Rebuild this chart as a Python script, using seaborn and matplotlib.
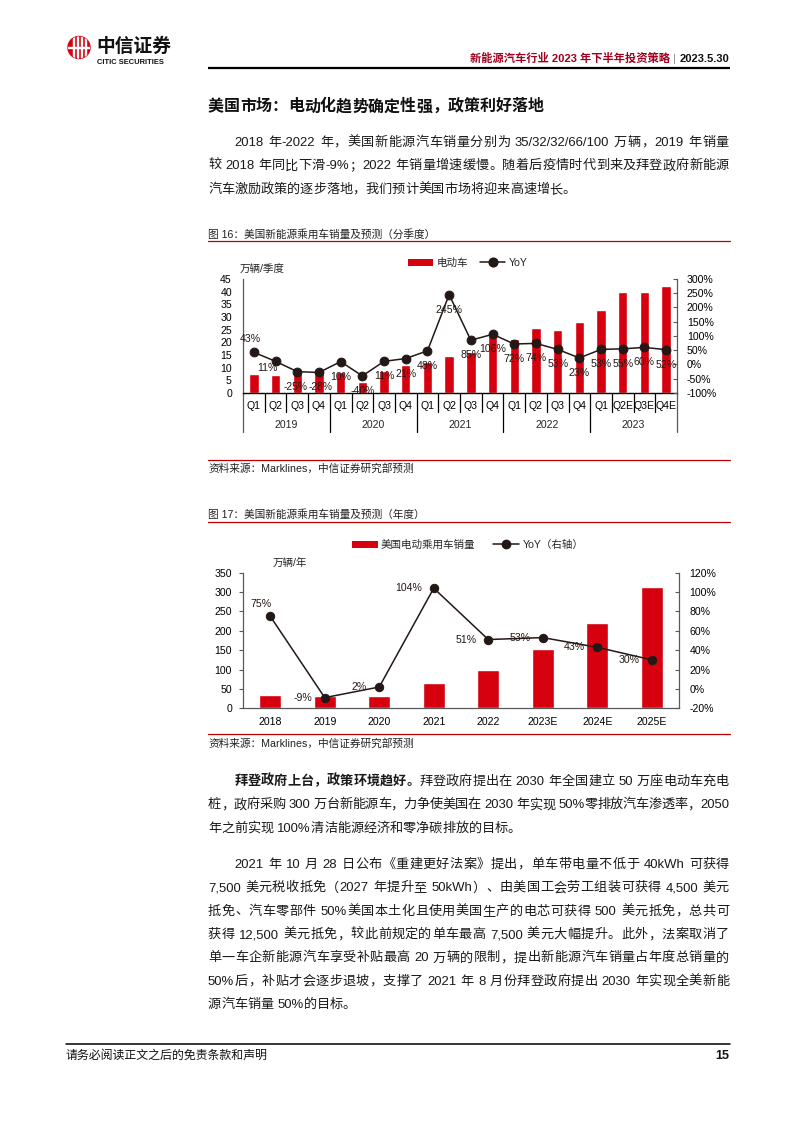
import numpy as np
import pandas as pd
import matplotlib
matplotlib.use('Agg')
import matplotlib.pyplot as plt
import seaborn as sns
from matplotlib.patches import Patch, Circle, Rectangle
from matplotlib.lines import Line2D
from matplotlib.font_manager import FontProperties

sns.set_style('white')
FAM = ['Liberation Sans', 'Noto Sans CJK SC']
plt.rcParams['font.family'] = FAM
plt.rcParams['axes.unicode_minus'] = False

# ---------------- data ----------------
q_keys = ['2019Q1', '2019Q2', '2019Q3', '2019Q4', '2020Q1', '2020Q2', '2020Q3', '2020Q4',
          '2021Q1', '2021Q2', '2021Q3', '2021Q4', '2022Q1', '2022Q2', '2022Q3', '2022Q4',
          '2023Q1', '2023Q2E', '2023Q3E', '2023Q4E']
q_labels = ['Q1', 'Q2', 'Q3', 'Q4', 'Q1', 'Q2', 'Q3', 'Q4', 'Q1', 'Q2', 'Q3', 'Q4',
            'Q1', 'Q2', 'Q3', 'Q4', 'Q1', 'Q2E', 'Q3E', 'Q4E']
q_years = ['2019', '2020', '2021', '2022', '2023']
q_sales = [7.6, 7.2, 7.9, 9.0, 8.4, 4.3, 8.8, 11.0, 12.4, 14.8, 16.3, 22.7,
           21.3, 25.7, 24.9, 27.9, 32.7, 39.8, 39.8, 42.3]
q_yoy = [43, 11, -25, -28, 10, -40, 11, 21, 48, 245, 85, 106, 72, 74, 53, 23, 53, 55, 60, 52]

a_years = ['2018', '2019', '2020', '2021', '2022', '2023E', '2024E', '2025E']
a_sales = [35, 32, 32, 66, 100, 154, 219, 313]
a_yoy = [75, -9, 2, 104, 51, 53, 43, 30]

RED = '#D7000F'
DARK = '#231815'
AXC = '#595959'
W, H = 794, 1123

fig = plt.figure(figsize=(W / 100, H / 100), dpi=100)
bg = fig.add_axes([0, 0, 1, 1])
bg.set_xlim(0, W)
bg.set_ylim(H, 0)
bg.axis('off')
renderer = fig.canvas.get_renderer()


def px_axes(x0, y0, x1, y1):
    return fig.add_axes([x0 / W, 1 - y1 / H, (x1 - x0) / W, (y1 - y0) / H])


def fprop(size, bold=False, family=None):
    return FontProperties(family=family or FAM, size=size, weight='bold' if bold else 'normal')


def adv(s, fp):
    w1 = renderer.get_text_width_height_descent('|' + s + '|', fp, ismath=False)[0]
    w0 = renderer.get_text_width_height_descent('||', fp, ismath=False)[0]
    return w1 - w0


def tokens(segs):
    out = []
    for text, bold in segs:
        word = ''
        for ch in text:
            if ord(ch) < 128 and ch != ' ':
                word += ch
            else:
                if word:
                    out.append((word, bold))
                    word = ''
                out.append((ch, bold))
        if word:
            out.append((word, bold))
    return out


def draw_line(segs, x0, x1, yc, size, justify=True, color='#1a1a1a'):
    toks = tokens(segs)
    fps = {False: fprop(size), True: fprop(size, True)}
    ws = [adv(t, fps[b]) for t, b in toks]
    gap = 0
    if justify and len(toks) > 1:
        gap = (x1 - x0 - sum(ws)) / (len(toks) - 1)
    ybase = yc + 0.37 * size * 100 / 72
    x = x0
    for (t, b), w in zip(toks, ws):
        if t != ' ':
            bg.text(x, ybase, t, fontproperties=fps[b], ha='left', va='baseline', color=color)
        x += w + gap


LM, RM = 208, 729
BODY = 9.47
LS = 23.4

# ---------------- header ----------------
bg.add_patch(Circle((79, 47.5), 11, color=RED))
clipc = Circle((79, 47.5), 11, transform=bg.transData)
for xx in [73.5, 77.5, 81.5, 85.5]:
    r = Rectangle((xx - 0.9, 36), 1.8, 23, color='white')
    r.set_clip_path(clipc)
    bg.add_patch(r)
r = Rectangle((68, 46.6), 22, 1.8, color='white')
r.set_clip_path(clipc)
bg.add_patch(r)
bg.text(96, 46, '中信证券', fontproperties=fprop(13.5, True, ['Noto Sans CJK SC']), ha='left', va='center', color='#111111')
bg.text(97, 62.5, 'CITIC SECURITIES', fontproperties=fprop(5.4, True), ha='left', va='center', color='#111111')

fp_h = fprop(8.0, True)
bg.text(RM, 58.5, '2023.5.30', fontproperties=fp_h, ha='right', va='center', color='#111111')
xh = RM - adv('2023.5.30', fp_h) - 3
bg.text(xh, 58.5, '|', fontproperties=fprop(8.0), ha='right', va='center', color='#888888')
xh -= adv('|', fprop(8.0)) + 3
bg.text(xh, 58.5, '新能源汽车行业 2023 年下半年投资策略', fontproperties=fprop(8.1, True), ha='right', va='center', color='#A0001E')
bg.plot([LM, RM + 1], [68, 68], color='black', lw=1.6, solid_capstyle='butt')

# ---------------- title & paragraph 1 ----------------
draw_line([('美国市场：电动化趋势确定性强，政策利好落地', True)], LM, RM, 105.5, 11.5, justify=False, color='#111111')

p1 = [
    '2018 年-2022 年，美国新能源汽车销量分别为 35/32/32/66/100 万辆，2019 年销量',
    '较 2018 年同比下滑-9%；2022 年销量增速缓慢。随着后疫情时代到来及拜登政府新能源',
    '汽车激励政策的逐步落地，我们预计美国市场将迎来高速增长。',
]
indent = 2 * BODY * 100 / 72
for i, ln in enumerate(p1):
    x0 = LM + (indent if i == 0 else 0)
    draw_line([(ln, False)], x0, RM, 141 + i * LS, BODY, justify=(i < len(p1) - 1))

# ---------------- figure 16 ----------------
CAP = 7.7
bg.text(LM, 234, '图 16：美国新能源乘用车销量及预测（分季度）', fontproperties=fprop(CAP), ha='left', va='center', color='#222222')
bg.plot([LM, RM + 1], [240.5, 240.5], color='#C00000', lw=0.9)

ax1 = px_axes(243, 279, 677, 393)
df1 = pd.DataFrame({'key': q_keys, 'sales': q_sales})
sns.barplot(data=df1, x='key', y='sales', color=RED, saturation=1, width=0.43, ax=ax1)
ax1.set_ylim(0, 45)
ax1.set_yticks(np.arange(0, 50, 5))
ax1.set_xticks(np.arange(20))
ax1.set_xticklabels(q_labels)
ax1.set_xlabel('')
ax1.set_ylabel('')
ax1.tick_params(axis='y', length=0, pad=8, labelsize=7.6, colors='black')
ax1.tick_params(axis='x', length=0, pad=5.5, labelsize=7.6, colors='black')
for s in ['top', 'right']:
    ax1.spines[s].set_visible(False)
ax1.spines['left'].set_color(AXC)
ax1.spines['left'].set_linewidth(0.9)
ax1.spines['bottom'].set_color('black')
ax1.spines['bottom'].set_linewidth(1.0)

ax2 = ax1.twinx()
sns.lineplot(x=np.arange(20), y=q_yoy, ax=ax2, color=DARK, lw=1.1, marker='o',
             markersize=6.3, markeredgecolor=DARK, markerfacecolor=DARK)
ax2.set_ylim(-100, 300)
ax2.set_yticks(np.arange(-100, 301, 50))
ax2.set_yticklabels([f'{v}%' for v in range(-100, 301, 50)])
ax2.tick_params(axis='y', length=3, direction='in', pad=7, labelsize=7.6, colors='black')
ax2.tick_params(axis='y', color=AXC)
ax2.set_xlabel('')
ax2.set_ylabel('')
for s in ['top', 'left', 'bottom']:
    ax2.spines[s].set_visible(False)
ax2.spines['right'].set_color(AXC)
ax2.spines['right'].set_linewidth(0.9)
ax1.set_xlim(-0.5, 19.5)

trans = ax1.get_xaxis_transform()
for i in range(21):
    b = i - 0.5
    yb = -0.342 if i % 4 == 0 else -0.167
    col = AXC if i in (0, 20) else 'black'
    ax1.plot([b, b], [0, yb], transform=trans, clip_on=False, color=col, lw=0.9)
for k, yr in enumerate(q_years):
    ax1.text(1.5 + 4 * k, -0.281, yr, transform=trans, ha='center', va='center', fontsize=7.6)

offs1 = {0: (-4, 13), 1: (-8, -7), 2: (-2, -15), 3: (2, -15)}
for i, v in enumerate(q_yoy):
    dx, dy = offs1.get(i, (0, -15))
    ax2.annotate(f'{v}%', xy=(i, v), xytext=(dx, dy), textcoords='offset pixels',
                 ha='center', va='center', fontsize=7.4 if i in (2, 3) else 7.6, color=DARK)

bg.text(240, 270, '万辆/季度', fontproperties=fprop(7.6), ha='left', va='center')
h1 = [Patch(facecolor=RED, edgecolor='none'),
      Line2D([], [], color=DARK, lw=1.1, marker='o', markersize=6.3)]
fig.legend(h1, ['电动车', 'YoY'], loc='center left', bbox_to_anchor=(408 / W, 1 - 263 / H),
           ncol=2, frameon=False, fontsize=7.6, handlelength=2.4, handletextpad=0.3,
           columnspacing=1.15, borderpad=0, borderaxespad=0)

bg.plot([LM, RM + 1], [459.5, 459.5], color='#C00000', lw=0.9)
bg.text(LM, 468, '资料来源：Marklines，中信证券研究部预测', fontproperties=fprop(CAP), ha='left', va='center', color='#222222')

# ---------------- figure 17 ----------------
bg.text(LM, 514.5, '图 17：美国新能源乘用车销量及预测（年度）', fontproperties=fprop(CAP), ha='left', va='center', color='#222222')
bg.plot([LM, RM + 1], [521.5, 521.5], color='#C00000', lw=0.9)

ax3 = px_axes(243, 572.7, 679, 708.3)
df2 = pd.DataFrame({'year': a_years, 'sales': a_sales})
sns.barplot(data=df2, x='year', y='sales', color=RED, saturation=1, width=0.4, ax=ax3)
ax3.set_ylim(0, 350)
ax3.set_yticks(np.arange(0, 351, 50))
ax3.set_xlabel('')
ax3.set_ylabel('')
ax3.set_xticks(np.arange(8))
ax3.set_xticklabels(a_years)
ax3.set_xticks(np.arange(-0.5, 8, 1), minor=True)
ax3.tick_params(axis='x', which='major', length=0, pad=6, labelsize=7.6, colors='black')
ax3.tick_params(axis='x', which='minor', length=3, direction='in', color=AXC)
ax3.tick_params(axis='y', length=3, direction='out', pad=5, labelsize=7.6, colors='black')
ax3.tick_params(axis='y', color=AXC)
for s in ['top', 'right']:
    ax3.spines[s].set_visible(False)
ax3.spines['left'].set_color(AXC)
ax3.spines['left'].set_linewidth(0.9)
ax3.spines['bottom'].set_color(AXC)
ax3.spines['bottom'].set_linewidth(0.9)

ax4 = ax3.twinx()
sns.lineplot(x=np.arange(8), y=a_yoy, ax=ax4, color=DARK, lw=1.1, marker='o',
             markersize=6, markeredgecolor=DARK, markerfacecolor=DARK)
ax4.set_ylim(-20, 120)
ax4.set_yticks(np.arange(-20, 121, 20))
ax4.set_yticklabels([f'{v}%' for v in range(-20, 121, 20)])
ax4.tick_params(axis='y', length=3, direction='in', pad=7.5, labelsize=7.6, colors='black')
ax4.tick_params(axis='y', color=AXC)
ax4.set_xlabel('')
ax4.set_ylabel('')
for s in ['top', 'left', 'bottom']:
    ax4.spines[s].set_visible(False)
ax4.spines['right'].set_color(AXC)
ax4.spines['right'].set_linewidth(0.9)
ax3.set_xlim(-0.5, 7.5)

for i, v in enumerate(a_yoy):
    if i == 0:
        ax4.annotate(f'{v}%', xy=(i, v), xytext=(-9, 12), textcoords='offset pixels',
                     ha='center', va='center', fontsize=7.6, color=DARK)
    else:
        ax4.annotate(f'{v}%', xy=(i, v), xytext=(-12, 0), textcoords='offset pixels',
                     ha='right', va='center', fontsize=7.6, color=DARK)

bg.text(273, 563, '万辆/年', fontproperties=fprop(7.6), ha='left', va='center')
h2 = [Patch(facecolor=RED, edgecolor='none'),
      Line2D([], [], color=DARK, lw=1.1, marker='o', markersize=6)]
fig.legend(h2, ['美国电动乘用车销量', 'YoY（右轴）'], loc='center left',
           bbox_to_anchor=(352 / W, 1 - 545 / H), ncol=2, frameon=False, fontsize=7.6,
           handlelength=2.45, handletextpad=0.3, columnspacing=1.7, borderpad=0, borderaxespad=0)

bg.plot([LM, RM + 1], [734, 734], color='#C00000', lw=0.9)
bg.text(LM, 743.5, '资料来源：Marklines，中信证券研究部预测', fontproperties=fprop(CAP), ha='left', va='center', color='#222222')

# ---------------- paragraph 2 ----------------
p2 = [
    [('拜登政府上台，政策环境趋好。', True), ('拜登政府提出在 2030 年全国建立 50 万座电动车充电', False)],
    [('桩，政府采购 300 万台新能源车，力争使美国在 2030 年实现 50%零排放汽车渗透率，2050', False)],
    [('年之前实现 100%清洁能源经济和零净碳排放的目标。', False)],
]
for i, segs in enumerate(p2):
    x0 = LM + (indent if i == 0 else 0)
    draw_line(segs, x0, RM, 780 + i * LS, BODY, justify=(i < len(p2) - 1))

# ---------------- paragraph 3 ----------------
p3 = [
    '2021 年 10 月 28 日公布《重建更好法案》提出，单车带电量不低于 40kWh 可获得',
    '7,500 美元税收抵免（2027 年提升至 50kWh）、由美国工会劳工组装可获得 4,500 美元',
    '抵免、汽车零部件 50%美国本土化且使用美国生产的电芯可获得 500 美元抵免，总共可',
    '获得 12,500 美元抵免，较此前规定的单车最高 7,500 美元大幅提升。此外，法案取消了',
    '单一车企新能源汽车享受补贴最高 20 万辆的限制，提出新能源汽车销量占年度总销量的',
    '50%后，补贴才会逐步退坡，支撑了 2021 年 8 月份拜登政府提出 2030 年实现全美新能',
    '源汽车销量 50%的目标。',
]
for i, ln in enumerate(p3):
    x0 = LM + (indent if i == 0 else 0)
    draw_line([(ln, False)], x0, RM, 863 + i * LS, BODY, justify=(i < len(p3) - 1))

# ---------------- footer ----------------
bg.plot([66, RM + 1], [1043.5, 1043.5], color='black', lw=1.1)
bg.text(66, 1056, '请务必阅读正文之后的免责条款和声明', fontproperties=fprop(8.6), ha='left', va='center', color='#111111')
bg.text(RM, 1056, '15', fontproperties=fprop(9, True), ha='right', va='center', color='#111111')

fig.savefig('out.png', dpi=100)
